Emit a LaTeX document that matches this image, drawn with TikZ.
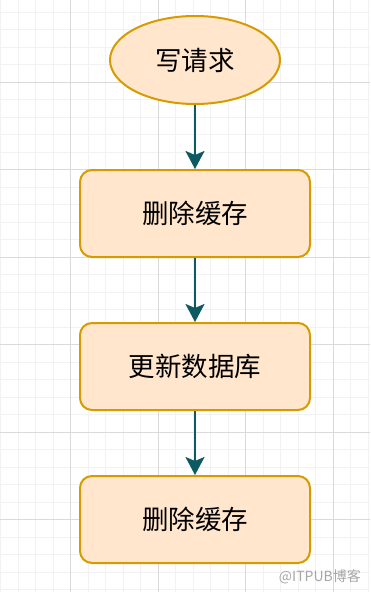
\documentclass[tikz,border=0pt]{standalone}
\usepackage{fontspec}
\newfontfamily\cjk{Noto Sans CJK SC}
\usetikzlibrary{shapes.geometric,arrows.meta}
\definecolor{boxfill}{HTML}{FFE6CC}
\definecolor{boxline}{HTML}{D79B00}
\definecolor{arrowcol}{HTML}{0E5A62}
\definecolor{gridmajor}{HTML}{DADADA}
\definecolor{gridminor}{HTML}{F2F2F2}
\tikzset{
  stepbox/.style={draw=boxline, fill=boxfill, line width=2pt, rounded corners=12pt,
    minimum width=230pt, minimum height=87pt, inner sep=0pt,
    font=\cjk\fontsize{26.5}{30}\selectfont},
  startnode/.style={ellipse, draw=boxline, fill=boxfill, line width=2pt,
    minimum width=170pt, minimum height=88pt, inner sep=0pt,
    font=\cjk\fontsize{26.5}{30}\selectfont},
  flow/.style={draw=arrowcol, line width=2.2pt,
    -{Stealth[length=18pt,width=19pt,inset=4pt]}}
}
\begin{document}
\begin{tikzpicture}[x=1pt,y=-1pt]
\useasboundingbox (0,0) rectangle (370,592);
\fill[white] (0,0) rectangle (370,592);
% minor grid
\foreach \i in {0,...,21} {
  \draw[gridminor, line width=0.8pt] ({0.5+17.5*\i},0) -- ({0.5+17.5*\i},592);
}
\foreach \j in {0,...,34} {
  \draw[gridminor, line width=0.8pt] (0,{12+17.5*\j}) -- (370,{12+17.5*\j});
}
% major grid
\foreach \i in {0,...,4} {
  \draw[gridmajor, line width=1pt] ({70.5+87.5*\i-87.5},0) -- ({70.5+87.5*\i-87.5},592);
}
\foreach \j in {0,...,6} {
  \draw[gridmajor, line width=1pt] (0,{82+87.5*\j-87.5}) -- (370,{82+87.5*\j-87.5});
}
\node[startnode] (req) at (195,60) {写请求};
\node[stepbox] (del1) at (195,213.5) {删除缓存};
\node[stepbox] (upd) at (195,366.5) {更新数据库};
\node[stepbox] (del2) at (195,519.5) {删除缓存};
\draw[flow] (req) -- (del1);
\draw[flow] (del1) -- (upd);
\draw[flow] (upd) -- (del2);
\node[font=\cjk\fontsize{14}{16}\selectfont, text=black!35, anchor=east, inner sep=0pt] (wm) at (361,577) {@ITPUB博客};
\end{tikzpicture}
\end{document}
